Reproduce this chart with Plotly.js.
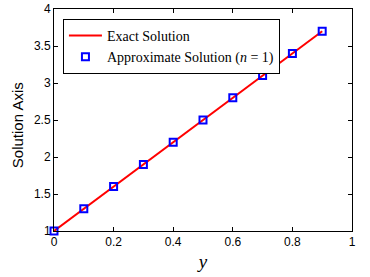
<!DOCTYPE html>
<html><head><meta charset="utf-8">
<script src="https://cdn.plot.ly/plotly-3.0.1.min.js"></script>
<style>html,body{margin:0;padding:0;background:#fff}#c{width:370px;height:277px}</style>
</head><body><div id="c"></div>
<script>
const xExact = [0, 0.1, 0.2, 0.3, 0.4, 0.5, 0.6, 0.7, 0.8, 0.9];
const yExact = [1, 1.3, 1.6, 1.9, 2.2, 2.5, 2.8, 3.1, 3.4, 3.7];
const xApprox = [0, 0.1, 0.2, 0.3, 0.4, 0.5, 0.6, 0.7, 0.8, 0.9];
const yApprox = [1, 1.3, 1.6, 1.9, 2.2, 2.5, 2.8, 3.1, 3.4, 3.7];
const xTicks = [0, 0.2, 0.4, 0.6, 0.8, 1];
const xTickText = ['0', '0.2', '0.4', '0.6', '0.8', '1'];
const yTicks = [1, 1.5, 2, 2.5, 3, 3.5, 4];
const yTickText = ['1', '1.5', '2', '2.5', '3', '3.5', '4'];
const yTitle = 'Solution Axis';
const xTitle = '<i>y</i>';

const traces = [
  {x: xExact, y: yExact, mode: 'lines', name: 'Exact Solution', cliponaxis: false,
   line: {color: '#ff0000', width: 2}},
  {x: xApprox, y: yApprox, mode: 'markers', name: 'Approximate Solution (<i>n</i> = 1)', cliponaxis: false,
   marker: {symbol: 'square-open', size: 7, color: '#0000ff', line: {width: 2, color: '#0000ff'}}}
];
const axisCommon = {showline: true, linecolor: '#000', linewidth: 1, mirror: 'ticks',
  ticks: 'inside', ticklen: 4, tickcolor: '#000', showgrid: false, zeroline: false,
  tickfont: {family: 'Liberation Sans, Arial, sans-serif', size: 12, color: '#000'}};
const layout = {
  width: 370, height: 277,
  margin: {l: 54, r: 18, t: 9, b: 46},
  paper_bgcolor: '#fff', plot_bgcolor: '#fff',
  showlegend: true,
  legend: {x: 0.03, y: 0.955, xanchor: 'left', yanchor: 'top',
    bgcolor: '#fff', bordercolor: '#000', borderwidth: 1,
    font: {family: 'Liberation Serif, Times New Roman, serif', size: 14, color: '#000'},
    itemwidth: 33, tracegroupgap: 0},
  xaxis: Object.assign({}, axisCommon, {range: [0, 1], tickmode: 'array', tickvals: xTicks, ticktext: xTickText,
    title: {text: xTitle, font: {family: 'Liberation Serif, Times New Roman, serif', size: 19, color: '#000'}, standoff: 6}}),
  yaxis: Object.assign({}, axisCommon, {range: [1, 4], tickmode: 'array', tickvals: yTicks, ticktext: yTickText}),
  annotations: [{text: yTitle, xref: 'paper', yref: 'paper', x: -0.124, y: 0.477,
    xanchor: 'center', yanchor: 'middle', textangle: -90, showarrow: false,
    font: {family: 'Liberation Sans, Arial, sans-serif', size: 15, color: '#000'}}]
};
Plotly.newPlot('c', traces, layout, {staticPlot: true, displayModeBar: false});
</script></body></html>
